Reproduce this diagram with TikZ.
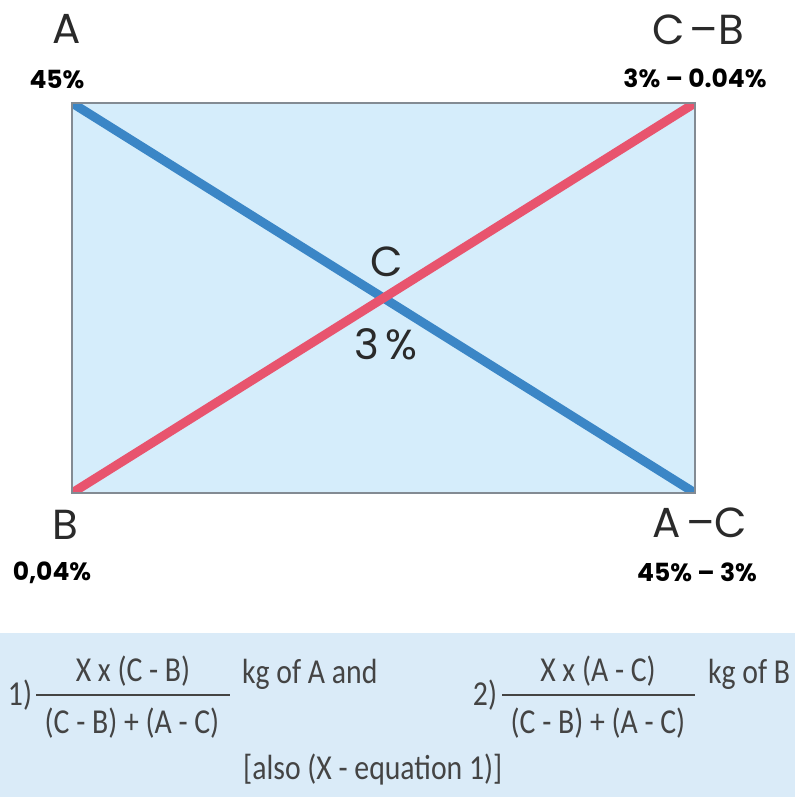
\documentclass[tikz,border=0pt]{standalone}
\usepackage{fontspec}
\setmainfont{Carlito}
\newfontfamily\geo{Poppins}
\newfontfamily\cond[FakeStretch=0.85]{Carlito}
\definecolor{boxfill}{HTML}{D5EDFB}
\definecolor{boxedge}{HTML}{838B93}
\definecolor{lineblue}{HTML}{3B86C6}
\definecolor{linered}{HTML}{E8546E}
\definecolor{panel}{HTML}{DAEBF8}
\definecolor{txt}{HTML}{2A2A2A}
\definecolor{eqtxt}{HTML}{444444}
\tikzset{
  big/.style={font=\geo\fontsize{42}{46}\selectfont, text=txt, inner sep=0pt},
  pct/.style={font=\geo\bfseries\fontsize{25}{28}\selectfont, text=black, inner sep=0pt},
  mid/.style={font=\geo\fontsize{42}{46}\selectfont, text=txt, inner sep=0pt},
  eq/.style={font=\cond\fontsize{35}{38}\selectfont, text=eqtxt, inner sep=0pt},
  diag/.style={line width=9pt, line cap=butt},
}
\begin{document}
\begin{tikzpicture}[x=1pt,y=-1pt]
\useasboundingbox (0,0) rectangle (795,797);
\fill[white] (0,0) rectangle (795,797);
% main rectangle
\coordinate (TL) at (72,103);
\coordinate (TR) at (695,103);
\coordinate (BL) at (72,493);
\coordinate (BR) at (695,493);
\fill[boxfill] (TL) rectangle (BR);
\begin{scope}
\clip (TL) rectangle (BR);
\draw[diag, lineblue] (TL) -- (BR);
\draw[diag, linered] (BL) -- (TR);
\end{scope}
\draw[boxedge, line width=2pt] (TL) rectangle (BR);
% corner labels
\node[big] (lA) at (67,29) {A};
\node[pct] (pA) at (57,80) {45\%};
\node[big] (lCB) at (698,30) {C\hspace{0.12em}–B};
\node[pct] (pCB) at (695,78) {3\% – 0.04\%};
\node[big] (lB) at (65,525) {B};
\node[pct] (pB) at (52,573) {0,04\%};
\node[big] (lAC) at (700,523) {A\hspace{0.12em}–C};
\node[pct] (pAC) at (697,572) {45\% – 3\%};
% centre
\node[mid] (lC) at (387,262) {C};
\node[mid] (pC) at (386,344) {3\,\%};
% bottom panel
\fill[panel] (0,633) rectangle (795,797);
\node[eq] (n1) at (20,695) {1)};
\node[eq] (num1) at (133,671) {X x (C - B)};
\node[eq] (den1) at (132,723) {(C - B) + (A - C)};
\draw[eqtxt, line width=1.5pt] (36,695) -- (230,695);
\node[eq, anchor=west] (t1) at (242,674) {kg of A and};
\node[eq] (n2) at (485,695) {2)};
\node[eq] (num2) at (598,671) {X x (A - C)};
\node[eq] (den2) at (598,723) {(C - B) + (A - C)};
\draw[eqtxt, line width=1.5pt] (502,695) -- (695,695);
\node[eq, anchor=west] (t2) at (708,674) {kg of B};
\node[eq, anchor=west] (t3) at (243,770) {[also (X - equation 1)]};
\end{tikzpicture}
\end{document}
